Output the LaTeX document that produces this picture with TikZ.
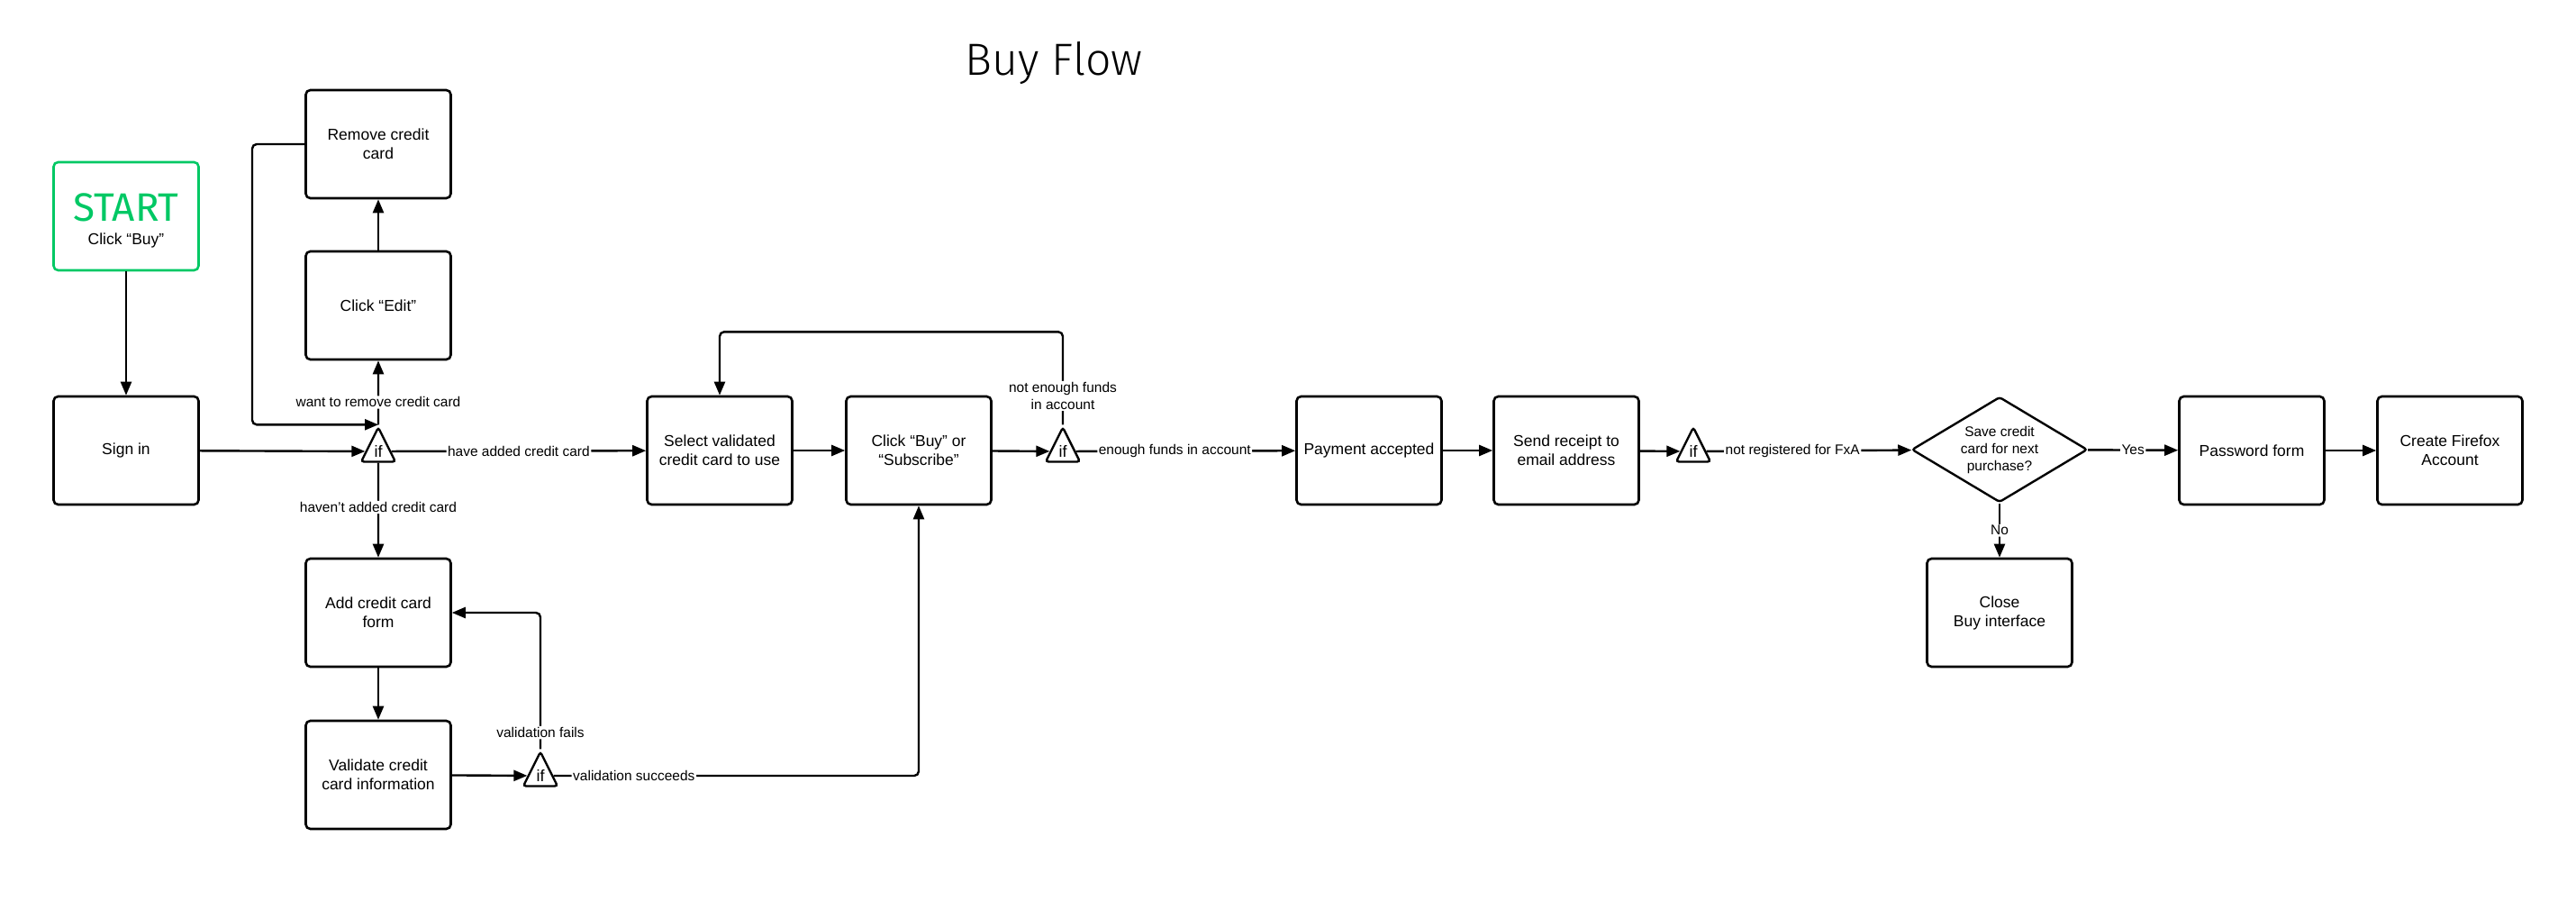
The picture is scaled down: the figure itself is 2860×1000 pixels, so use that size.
\documentclass[tikz,border=0pt]{standalone}
\usepackage{fontspec}
\setmainfont{Liberation Sans}
\newfontfamily\titlefont{Fira Sans Light}
\newfontfamily\startfont{Fira Sans}
\usetikzlibrary{arrows.meta}
\usetikzlibrary{shapes.geometric}
\definecolor{startgreen}{RGB}{0,200,100}

\tikzset{
  box/.style={draw, line width=2.6pt, rounded corners=5pt, minimum width=161pt, minimum height=120pt,
    align=center, inner sep=2pt, font=\fontsize{17.5}{21}\selectfont},
  ifnode/.style={draw, fill=white, line width=2.4pt, isosceles triangle, isosceles triangle stretches,
    shape border rotate=90, minimum width=38pt, minimum height=38pt, inner sep=0pt,
    rounded corners=3pt, font=\fontsize{18}{18}\selectfont},
  decision/.style={draw, diamond, line width=2.4pt, shape aspect=1.67, minimum width=195pt,
    minimum height=117pt, inner sep=0pt, rounded corners=3pt, align=center,
    font=\fontsize{15.5}{19}\selectfont},
  lbl/.style={fill=white, inner sep=1.5pt, align=center, font=\fontsize{15.5}{18.5}\selectfont},
  link/.style={line width=2.4pt, rounded corners=5pt, -{Triangle[length=15pt,width=12pt]}}
}

\begin{document}
\begin{tikzpicture}[x=1pt,y=-1pt]
\useasboundingbox (0,0) rectangle (2860,1000);

\node[anchor=base, font=\titlefont\fontsize{50}{50}\selectfont] (title) at (1170,84) {Buy Flow};

% left column
\node[box, draw=startgreen] (start) at (140,240) {\rule{0pt}{40pt}{\startfont\fontsize{44}{44}\selectfont\color{startgreen}START}\\[5pt]Click “Buy”};
\node[box] (signin) at (140,500) {Sign in};

\node[box] (remove) at (420,160) {Remove credit\\card};
\node[box] (edit) at (420,339) {Click “Edit”};
\node[ifnode] (if1) at (420,501) {if};
\node[box] (add) at (420,680) {Add credit card\\form};
\node[box] (validate) at (420,860) {Validate credit\\card information};
\node[ifnode] (if2) at (600,861) {if};

% main row
\node[box] (select) at (799,500) {Select validated\\credit card to use};
\node[box] (buy) at (1020,500) {Click “Buy” or\\“Subscribe”};
\node[ifnode] (if3) at (1180,501) {if};
\node[box] (payment) at (1520,500) {Payment accepted};
\node[box] (receipt) at (1739,500) {Send receipt to\\email address};
\node[ifnode] (if4) at (1880,501) {if};
\node[decision] (save) at (2220,499) {Save credit\\card for next\\purchase?};
\node[box] (password) at (2500,500) {Password form};
\node[box] (account) at (2720,500) {Create Firefox\\Account};
\node[box] (close) at (2220,680) {Close\\Buy interface};

% connectors
\draw[link] (start) -- (signin);
\draw[link] (signin) -- (if1);
\draw[link] (remove.west) -| ([xshift=-140pt]if1.apex) -- (if1.apex);
\draw[link] (if1) -- node[lbl, pos=0.35]{want to remove credit card} (edit);
\draw[link] (edit) -- (remove);
\draw[link] (if1) -- node[lbl]{have added credit card} (select);
\draw[link] (if1) -- node[lbl, pos=0.47]{haven’t added credit card} (add);
\draw[link] (add) -- (validate);
\draw[link] (validate) -- (if2);
\draw[link] (if2.apex) |- node[lbl, pos=0.06]{validation fails} (add.east);
\draw[link] (if2) -| node[lbl, pos=0.11]{validation succeeds} (buy.south);
\draw[link] (select) -- (buy);
\draw[link] (buy) -- (if3);
\draw[link] (if3.apex) -- node[lbl, pos=0.31]{not enough funds\\in account} ([yshift=103pt]if3.apex) -| (select.north);
\draw[link] (if3) -- node[lbl, pos=0.45]{enough funds in account} (payment);
\draw[link] (payment) -- (receipt);
\draw[link] (receipt) -- (if4);
\draw[link] (if4) -- node[lbl, pos=0.42]{not registered for FxA} (save);
\draw[link] (save) -- node[lbl]{Yes} (password);
\draw[link] (password) -- (account);
\draw[link] (save) -- node[lbl]{No} (close);

\end{tikzpicture}
\end{document}
